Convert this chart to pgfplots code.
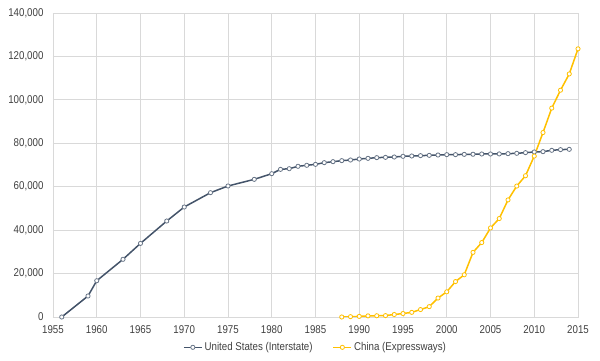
\documentclass[border=0pt]{standalone}
\usepackage{pgfplots}
\pgfplotsset{compat=1.18}
\usepackage{fontspec}
\setmainfont{Liberation Sans}[FakeStretch=0.86]
\definecolor{usc}{HTML}{44546A}
\definecolor{cnc}{HTML}{FFC000}
\definecolor{gridc}{HTML}{D9D9D9}
\definecolor{txtc}{HTML}{404040}
\begin{document}
\begin{tikzpicture}[x=1pt,y=1pt]
\begin{axis}[
  scale only axis,
  width=525pt, height=304pt,
  xmin=1955, xmax=2015, ymin=0, ymax=140000,
  xtick={1955,1960,...,2015},
  ytick={0,20000,...,140000},
  grid=major,
  major grid style={gridc, line width=0.8pt},
  axis line style={gridc, line width=0.8pt},
  major tick length=0pt,
  tick style={draw=none},
  ticklabel style={font=\fontsize{11.3}{13}\selectfont, text=txtc},
  /pgf/number format/assume math mode=true,
  yticklabel style={/pgf/number format/.cd, fixed, 1000 sep={,}},
  xticklabel style={/pgf/number format/.cd, 1000 sep={}},
  scaled y ticks=false,
  yticklabel shift=6pt,
  xticklabel shift=5pt,
  legend style={draw=none, fill=none, at={(0.5,-0.07)}, anchor=north,
    legend columns=2, font=\fontsize{11.3}{13}\selectfont, text=txtc,
    /tikz/every even column/.append style={column sep=18pt}},
  legend image code/.code={
    \draw[#1] (0pt,0pt) -- (18pt,0pt);
    \draw[#1, mark repeat=1] plot coordinates {(9pt,0pt)};
  },
]
\addplot[usc, line width=1.5pt, mark=*, mark size=2.1pt,
  mark options={fill=white, draw=usc!80!white, line width=0.8pt}] coordinates {
(1956,0) (1959,9670) (1960,16700) (1963,26570) (1965,33900) (1968,44200)
(1970,50650) (1973,57250) (1975,60330) (1978,63400) (1980,66000)
(1981,68000) (1982,68300) (1983,69400) (1984,69860) (1985,70300)
(1986,71070) (1987,71530) (1988,72000) (1989,72300) (1990,72760)
(1991,73070) (1992,73380) (1993,73530) (1994,73680) (1995,74000)
(1996,74150) (1997,74300) (1998,74450) (1999,74600) (2000,74760)
(2001,74760) (2002,74900) (2003,74950) (2004,75070) (2005,75070)
(2006,75100) (2007,75220) (2008,75380) (2009,75680) (2010,76000)
(2011,76150) (2012,76760) (2013,77070) (2014,77220)
};
\addlegendentry{United States (Interstate)}
\addplot[cnc, line width=1.5pt, mark=*, mark size=2.1pt,
  mark options={fill=white, draw=cnc, line width=0.8pt}] coordinates {
(1988,0) (1989,147) (1990,271) (1991,522) (1992,574) (1993,652)
(1994,1145) (1995,1603) (1996,2141) (1997,3422) (1998,4771)
(1999,8733) (2000,11605) (2001,16314) (2002,19437) (2003,29745)
(2004,34288) (2005,41005) (2006,45339) (2007,53913) (2008,60302)
(2009,65055) (2010,74113) (2011,84946) (2012,96200) (2013,104438)
(2014,111936) (2015,123500)
};
\addlegendentry{China (Expressways)}
\coordinate (sw) at (rel axis cs:0,0);
\coordinate (ne) at (rel axis cs:1,1);
\end{axis}
\pgfresetboundingbox
\path (sw) ++(-53pt,-44pt) coordinate (bl);
\path (ne) ++(22pt,13pt) coordinate (tr);
\path (bl) rectangle (tr);
\end{tikzpicture}
\end{document}
